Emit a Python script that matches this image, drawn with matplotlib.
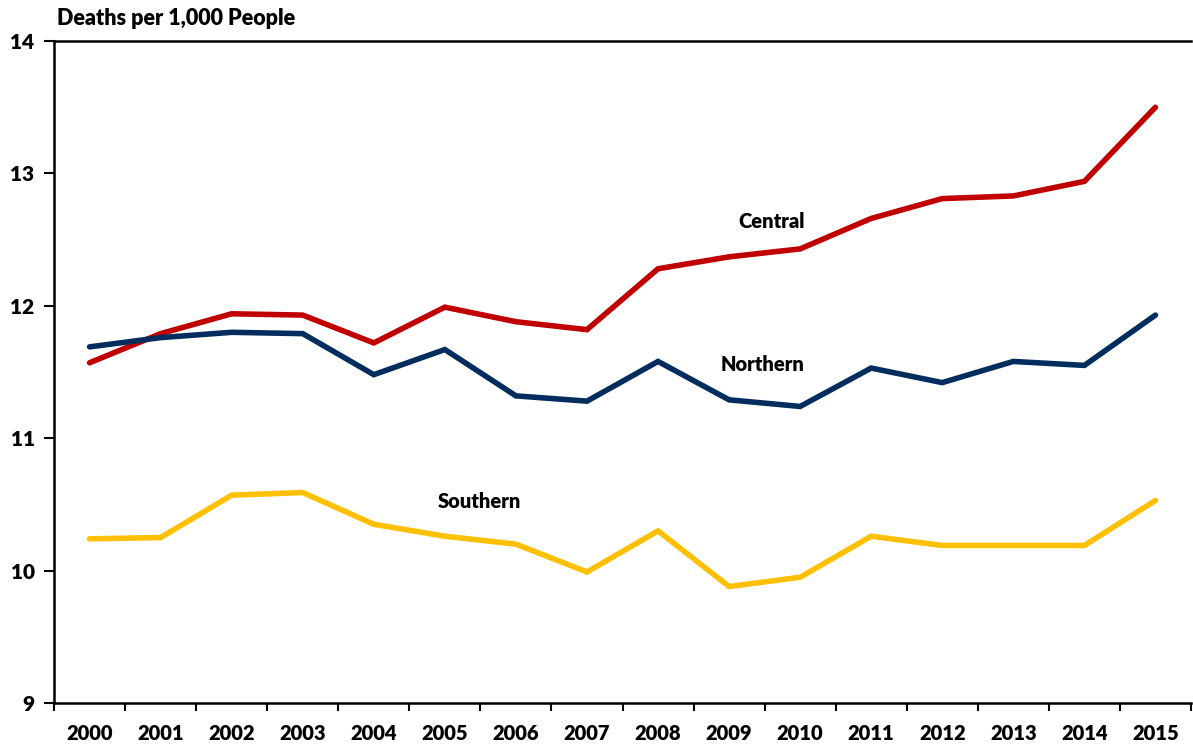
import matplotlib
matplotlib.use("Agg")
import matplotlib.pyplot as plt
from matplotlib.ticker import FixedLocator, NullFormatter

plt.rcParams['font.family'] = ['Lato', 'DejaVu Sans']
plt.rcParams['font.weight'] = 'heavy'

years = list(range(2000, 2016))
central = [11.57, 11.79, 11.94, 11.93, 11.72, 11.99, 11.88, 11.82,
           12.28, 12.37, 12.43, 12.66, 12.81, 12.83, 12.94, 13.50]
northern = [11.69, 11.76, 11.80, 11.79, 11.48, 11.67, 11.32, 11.28,
            11.58, 11.29, 11.24, 11.53, 11.42, 11.58, 11.55, 11.93]
southern = [10.24, 10.25, 10.57, 10.59, 10.35, 10.26, 10.20, 9.99,
            10.30, 9.88, 9.95, 10.26, 10.19, 10.19, 10.19, 10.53]
y_ticks = [9, 10, 11, 12, 13, 14]

W = 'heavy'

fig = plt.figure(figsize=(11.93, 7.46), dpi=100)
ax = fig.add_axes([0.0453, 0.0576, 0.9530, 0.8874])

x = list(range(len(years)))
ax.plot(x, central, color='#C00000', lw=4, solid_capstyle='round', solid_joinstyle='miter')
ax.plot(x, northern, color='#002D5E', lw=4, solid_capstyle='round', solid_joinstyle='miter')
ax.plot(x, southern, color='#FFC000', lw=4, solid_capstyle='round', solid_joinstyle='miter')

ax.set_xlim(-0.5, len(years) - 0.5)
ax.set_ylim(9, 14)
ax.set_yticks(y_ticks)
ax.set_yticklabels([str(t) for t in y_ticks], fontsize=15, fontweight=W)

# category labels centred, ticks on the boundaries
ax.set_xticks(x)
ax.set_xticklabels([str(y) for y in years], fontsize=14.5, fontweight=W)
ax.tick_params(axis='x', which='major', length=0, pad=15)
ax.xaxis.set_minor_locator(FixedLocator([i - 0.5 for i in range(len(years) + 1)]))
ax.xaxis.set_minor_formatter(NullFormatter())
ax.tick_params(axis='x', which='minor', length=6, width=1.5, direction='out')
ax.tick_params(axis='y', length=7, width=1.5, direction='out', pad=7)

for side in ['left', 'bottom', 'top']:
    ax.spines[side].set_linewidth(1.8)
ax.spines['right'].set_visible(False)

ax.text(9.6, 12.64, 'Central', fontsize=14.5, fontweight=W, ha='center', va='center')
ax.text(9.47, 11.56, 'Northern', fontsize=14.5, fontweight=W, ha='center', va='center')
ax.text(5.48, 10.52, 'Southern', fontsize=14.5, fontweight=W, ha='center', va='center')

fig.text(0.048, 0.975, 'Deaths per 1,000 People', fontsize=15.5, fontweight=W,
         ha='left', va='center')

fig.savefig('out.png', dpi=100, facecolor='white')
